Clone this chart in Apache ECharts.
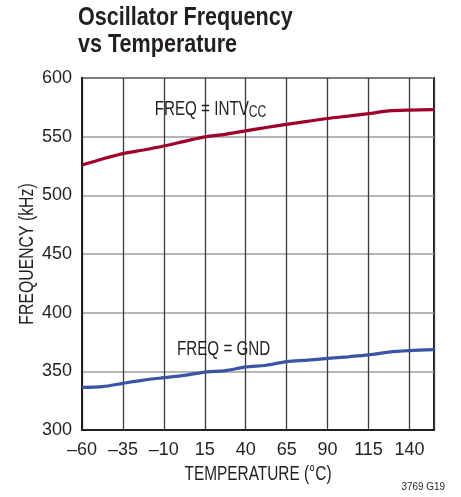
<!DOCTYPE html>
<html>
<head>
<meta charset="utf-8">
<script src="https://cdn.jsdelivr.net/npm/echarts@6/dist/echarts.min.js"></script>
<style>html,body{margin:0;padding:0;background:#fff}#c{width:461px;height:497px}</style>
</head>
<body>
<div id="c"></div>
<script>
var FONT = "'Liberation Sans',Arial,sans-serif";
var INK = '#231f20';
var temps = [-60, -47.5, -35, -22.5, -10, 2.5, 15, 27.5, 40, 52.5, 65, 77.5, 90, 102.5, 115, 127.5, 140, 155];
var freqIntvcc = [525.8, 531, 535.6, 538.6, 542, 546, 549.8, 552, 555, 557.8, 560.5, 563, 565.5, 567.5, 569.6, 572, 572.7, 573];
var freqGnd = [336.4, 337, 339.8, 342.5, 344.6, 346.6, 349.4, 350.6, 353.8, 355.2, 358.3, 359.5, 361, 362.4, 364, 366.4, 367.6, 368.5];
var xTicks = [-60, -35, -10, 15, 40, 65, 90, 115, 140];
var yTicks = [300, 350, 400, 450, 500, 550, 600];
var titleLines = ['Oscillator Frequency', 'vs Temperature'];
var xName = 'TEMPERATURE (°C)';
var yName = 'FREQUENCY (kHz)';
var labelIntvcc = {main: 'FREQ = INTV', sub: 'CC', at: [18.5, 573.5]};
var labelGnd = {main: 'FREQ = GND', at: [26.5, 369]};
var figId = '3769 G19';

function pairs(xs, ys){ return xs.map(function(x,i){ return [x, ys[i]]; }); }

var chart = echarts.init(document.getElementById('c'), null, {renderer:'canvas'});
chart.setOption({
  animation: false,
  grid: {left: 82, top: 78, right: 27, bottom: 67, show: true, borderColor: INK, borderWidth: 2, backgroundColor: 'transparent'},
  xAxis: {
    type: 'value', min: -60, max: 155, interval: 25,
    axisLine: {show: true, onZero: false, lineStyle: {color: INK, width: 2}},
    axisTick: {show: false},
    axisLabel: {
      fontFamily: FONT, fontSize: 18, color: INK, margin: 11,
      formatter: function(v){ return xTicks.indexOf(v) >= 0 ? String(v).replace('-', '\u2013') : ''; }
    },
    splitLine: {show: true, lineStyle: {color: '#3a3a3a', width: 1.3}}
  },
  yAxis: {
    type: 'value', min: 300, max: 600, interval: 50,
    axisLine: {show: true, onZero: false, lineStyle: {color: INK, width: 2}},
    axisTick: {show: false},
    axisLabel: {
      fontFamily: FONT, fontSize: 18, color: INK, margin: 10,
      formatter: function(v){ return yTicks.indexOf(v) >= 0 ? String(v) : ''; }
    },
    splitLine: {show: true, lineStyle: {color: '#9d9d9d', width: 1.5}}
  },
  series: [
    {type: 'line', data: pairs(temps, freqIntvcc), smooth: 0.3, symbol: 'none',
     lineStyle: {color: '#a0002c', width: 3.2}},
    {type: 'line', data: pairs(temps, freqGnd), smooth: 0.3, symbol: 'none',
     lineStyle: {color: '#3a55a5', width: 3.2}}
  ]
});

var p1 = chart.convertToPixel({gridIndex: 0}, labelIntvcc.at);
var p2 = chart.convertToPixel({gridIndex: 0}, labelGnd.at);

chart.setOption({
  graphic: [
    {type: 'text', x: 78, y: 18, scaleX: 0.83,
     style: {text: titleLines[0], font: 'bold 26px ' + FONT, fill: INK, textAlign: 'left', textVerticalAlign: 'middle'}},
    {type: 'text', x: 78, y: 45, scaleX: 0.83,
     style: {text: titleLines[1], font: 'bold 26px ' + FONT, fill: INK, textAlign: 'left', textVerticalAlign: 'middle'}},
    {type: 'text', x: 258, y: 474, scaleX: 0.77,
     style: {text: xName, font: '20px ' + FONT, fill: INK, textAlign: 'center', textVerticalAlign: 'middle'}},
    {type: 'text', x: 27, y: 254, rotation: Math.PI / 2, scaleX: 0.79,
     style: {text: yName, font: '20px ' + FONT, fill: INK, textAlign: 'center', textVerticalAlign: 'middle'}},
    {type: 'text', x: p1[0], y: p1[1], scaleX: 0.76,
     style: {text: '{a|' + labelIntvcc.main + '}{b|' + labelIntvcc.sub + '}', textAlign: 'center', textVerticalAlign: 'middle',
       rich: {
         a: {fontFamily: FONT, fontSize: 20, fill: INK, lineHeight: 24, verticalAlign: 'middle'},
         b: {fontFamily: FONT, fontSize: 16, fill: INK, lineHeight: 24, verticalAlign: 'bottom'}
       }}},
    {type: 'text', x: p2[0], y: p2[1], scaleX: 0.76,
     style: {text: labelGnd.main, font: '20px ' + FONT, fill: INK, textAlign: 'center', textVerticalAlign: 'middle'}},
    {type: 'text', right: 16, bottom: 5, scaleX: 0.9,
     style: {text: figId, font: '11px ' + FONT, fill: INK}}
  ]
});
</script>
</body>
</html>
